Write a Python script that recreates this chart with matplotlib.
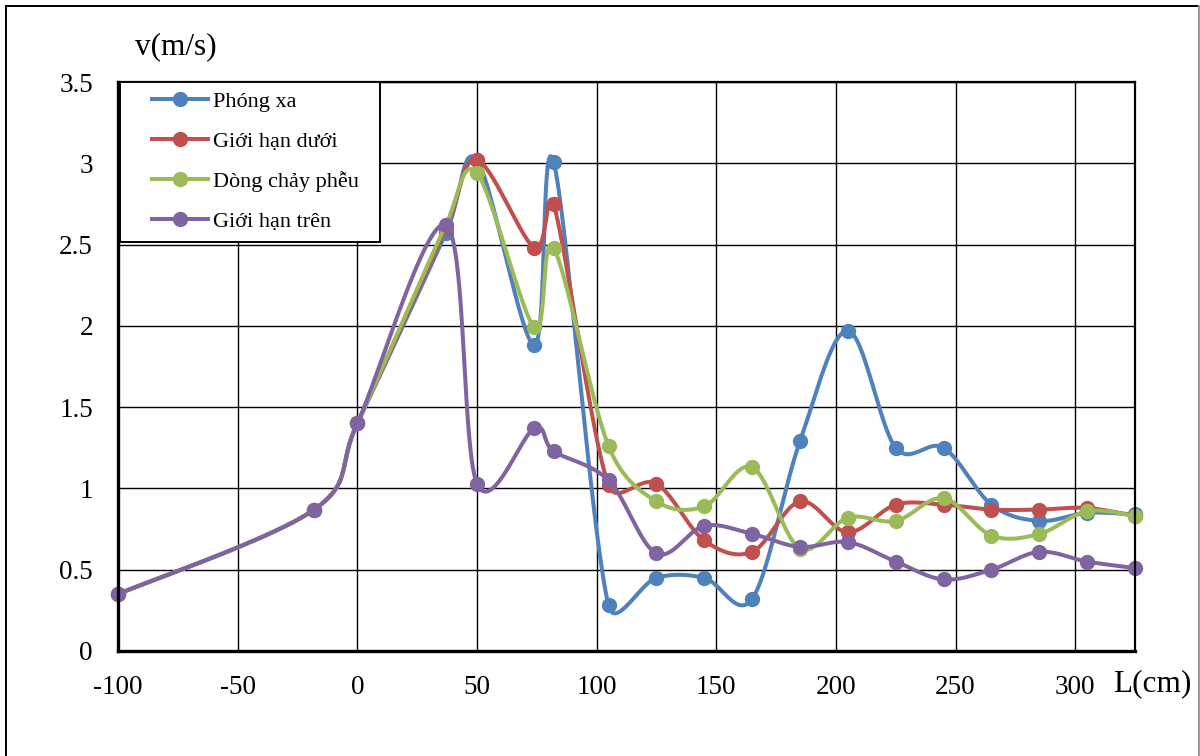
import numpy as np
import matplotlib
matplotlib.use("Agg")
import matplotlib.pyplot as plt
from matplotlib.lines import Line2D

plt.rcParams['font.family'] = ['Liberation Serif', 'DejaVu Serif']
plt.rcParams['axes.unicode_minus'] = False

# Measurement positions (cm) and velocities (m/s)
L_cm = [-100, -18, 0, 37, 50, 74, 82, 105, 125, 145, 165, 185, 205, 225, 245, 265, 285, 305, 325]

phong_xa = [0.35, 0.87, 1.40, 2.57, 3.02, 1.88, 3.01, 0.28, 0.45, 0.45, 0.32, 1.29, 1.97,
            1.25, 1.25, 0.90, 0.80, 0.85, 0.84]
gioi_han_duoi = [0.35, 0.87, 1.40, 2.60, 3.02, 2.48, 2.75, 1.02, 1.03, 0.68, 0.61, 0.92, 0.73,
                 0.90, 0.90, 0.87, 0.87, 0.88, 0.83]
dong_chay_pheu = [0.35, 0.87, 1.40, 2.62, 2.94, 1.99, 2.48, 1.26, 0.92, 0.89, 1.13, 0.63, 0.82,
                  0.80, 0.94, 0.71, 0.72, 0.86, 0.83]
gioi_han_tren = [0.35, 0.87, 1.40, 2.62, 1.03, 1.37, 1.23, 1.05, 0.60, 0.77, 0.72, 0.64, 0.67,
                 0.55, 0.44, 0.50, 0.61, 0.55, 0.51]

series_names = ["Phóng xa", "Giới hạn dưới", "Dòng chảy phễu", "Giới hạn trên"]
series_values = [phong_xa, gioi_han_duoi, dong_chay_pheu, gioi_han_tren]
series_colors = ["#4F81BD", "#C0504D", "#9BBB59", "#8064A2"]

x_ticks = [-100, -50, 0, 50, 100, 150, 200, 250, 300]
x_tick_labels = ["-100", "-50", "0", "50", "100", "150", "200", "250", "300"]
y_ticks = [0, 0.5, 1, 1.5, 2, 2.5, 3, 3.5]
y_tick_labels = ["0", "0.5", "1", "1.5", "2", "2.5", "3", "3.5"]

W, H = 1200, 756
fig = plt.figure(figsize=(W / 100, H / 100), dpi=100)
ax = fig.add_axes([118 / W, 1 - 651 / H, (1135 - 118) / W, (651 - 82) / H])
ax.set_xlim(-100, 325)
ax.set_ylim(0, 3.5)


def smooth_curve(xs, ys, n=60):
    """Spreadsheet-style smoothed line: cubic Bezier segments built in display space."""
    pts = ax.transData.transform(np.column_stack([xs, ys]))
    out = [pts[0]]
    m = len(pts)
    for i in range(m - 1):
        p0 = pts[i - 1] if i > 0 else pts[i]
        p1 = pts[i]
        p2 = pts[i + 1]
        p3 = pts[i + 2] if i + 2 < m else pts[i + 1]
        d12 = np.linalg.norm(p2 - p1)
        d02 = np.linalg.norm(p2 - p0)
        d13 = np.linalg.norm(p3 - p1)
        f1 = 1 / 6
        f2 = 1 / 6
        if d02 > 0 and d02 / 6 > d12 / 2:
            f1 = d12 / (2 * d02)
        if d13 > 0 and d13 / 6 > d12 / 2:
            f2 = d12 / (2 * d13)
        c1 = p1 + (p2 - p0) * f1
        c2 = p2 - (p3 - p1) * f2
        t = np.linspace(0, 1, n)[1:, None]
        seg = ((1 - t) ** 3) * p1 + 3 * ((1 - t) ** 2) * t * c1 + 3 * (1 - t) * t ** 2 * c2 + t ** 3 * p2
        out.extend(seg)
    data = ax.transData.inverted().transform(np.array(out))
    return data[:, 0], data[:, 1]


for k, (vals, col) in enumerate(zip(series_values, series_colors)):
    sx, sy = smooth_curve(L_cm, vals)
    ax.plot(sx, sy, color=col, lw=2.9, solid_capstyle='round', zorder=3 + k * 0.1, clip_on=False)
    ax.plot(L_cm, vals, 'o', ms=10, color=col, mec=col, zorder=3.05 + k * 0.1, clip_on=False)

# grid and frame
ax.set_xticks(x_ticks)
ax.set_xticklabels(x_tick_labels)
ax.set_yticks(y_ticks)
ax.set_yticklabels(y_tick_labels)
ax.grid(True, color='black', lw=1.0, zorder=1)
ax.set_axisbelow(True)
ax.tick_params(length=0, labelsize=19.5)
ax.tick_params(axis='x', pad=17)
ax.tick_params(axis='y', pad=18)
ax.spines['left'].set_linewidth(2.4)
ax.spines['bottom'].set_linewidth(2.4)
ax.spines['top'].set_linewidth(1.6)
ax.spines['right'].set_linewidth(1.6)
for s in ax.spines.values():
    s.set_color('black')
    s.set_zorder(4)

# legend box
frame = plt.Rectangle((2 / 1017, 1 - 160 / 569), 260 / 1017, 160 / 569, transform=ax.transAxes,
                      facecolor='white', edgecolor='black', lw=1.4, zorder=6)
ax.add_patch(frame)
handles = [Line2D([0], [0], color=c, lw=2.9, marker='o', ms=10) for c in series_colors]
leg = ax.legend(handles, series_names, loc='upper left', bbox_to_anchor=(34 / 1017, 1 - 9 / 569),
                frameon=False, borderpad=0, borderaxespad=0, fontsize=16, handlelength=2.5,
                handletextpad=0.25, labelspacing=0.88, numpoints=1)
leg.set_zorder(7)

# axis titles
fig.text(135 / W, 1 - 47 / H, "v(m/s)", fontsize=22.5, ha='left', va='center')
fig.text(1113 / W, 1 - 684 / H, "L(cm)", fontsize=22.5, ha='left', va='center')

# outer chart border
fig.add_artist(Line2D([6 / W, 6 / W], [0, 1 - 6 / H], transform=fig.transFigure, color='black', lw=1.4))
fig.add_artist(Line2D([6 / W, 1199 / W], [1 - 6 / H, 1 - 6 / H], transform=fig.transFigure, color='black', lw=1.4))
fig.add_artist(Line2D([1199 / W, 1199 / W], [0, 1 - 6 / H], transform=fig.transFigure, color='#9a9a9a', lw=1.4))

fig.savefig("out.png", dpi=100)
